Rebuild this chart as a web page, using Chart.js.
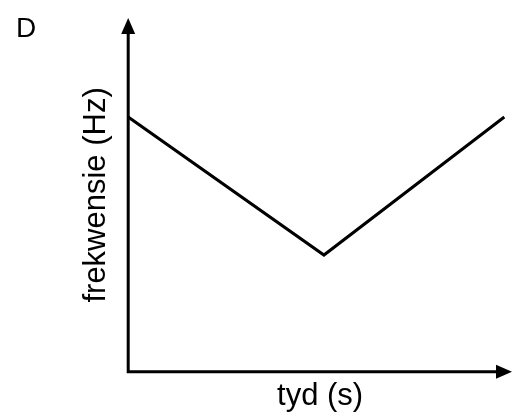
<!DOCTYPE html>
<html>
<head>
<meta charset="utf-8">
<script src="https://cdn.jsdelivr.net/npm/chart.js@4"></script>
<style>
  html, body { margin: 0; padding: 0; background: #fff; }
</style>
</head>
<body>
<canvas id="chart" width="513" height="412"></canvas>
<script>
// frequency vs time (arbitrary units, no ticks shown)
const times = [0, 5.1, 9.8];
const freqs = [7.2, 3.3, 7.2];
const panelLabel = 'D';
const xTitle = 'tyd (s)';
const yTitle = 'frekwensie (Hz)';

const FONT = 'Liberation Sans, Arial, sans-serif';

// axes with arrowheads + panel letter
const arrowAxes = {
    id: 'arrowAxes',
    afterDraw(chart) {
        const ctx = chart.ctx;
        const x = chart.scales.x, y = chart.scales.y;
        const x0 = x.getPixelForValue(0), y0 = y.getPixelForValue(0);
        const xEnd = x.getPixelForValue(10), yEnd = y.getPixelForValue(10);
        ctx.save();
        ctx.strokeStyle = '#000';
        ctx.fillStyle = '#000';
        ctx.lineWidth = 3;
        ctx.beginPath();
        ctx.moveTo(x0, yEnd + 12);
        ctx.lineTo(x0, y0);
        ctx.lineTo(xEnd - 12, y0);
        ctx.stroke();
        // up arrow
        ctx.beginPath();
        ctx.moveTo(x0, yEnd);
        ctx.lineTo(x0 - 7, yEnd + 16);
        ctx.lineTo(x0 + 7, yEnd + 16);
        ctx.closePath();
        ctx.fill();
        // right arrow
        ctx.beginPath();
        ctx.moveTo(xEnd, y0);
        ctx.lineTo(xEnd - 16, y0 - 7);
        ctx.lineTo(xEnd - 16, y0 + 7);
        ctx.closePath();
        ctx.fill();
        ctx.font = '28px ' + FONT;
        ctx.textBaseline = 'alphabetic';
        ctx.fillText(panelLabel, 16, 37);
        ctx.restore();
    }
};

new Chart(document.getElementById('chart'), {
    type: 'line',
    data: {
        datasets: [{
            data: times.map((t, i) => ({ x: t, y: freqs[i] })),
            borderColor: '#000',
            borderWidth: 3,
            pointRadius: 0,
            tension: 0,
            fill: false
        }]
    },
    options: {
        responsive: false,
        animation: false,
        devicePixelRatio: 1,
        layout: { padding: { left: 78, right: 1, top: 18, bottom: 0 } },
        plugins: {
            legend: { display: false },
            tooltip: { enabled: false }
        },
        scales: {
            x: {
                type: 'linear',
                min: 0,
                max: 10,
                grid: { display: false },
                border: { display: false },
                ticks: { display: false },
                title: {
                    display: true,
                    text: xTitle,
                    color: '#000',
                    font: { size: 31, family: FONT },
                    padding: { top: -2, bottom: -3 }
                }
            },
            y: {
                min: 0,
                max: 10,
                grid: { display: false },
                border: { display: false },
                ticks: { display: false },
                title: {
                    display: true,
                    text: yTitle,
                    color: '#000',
                    font: { size: 31, family: FONT },
                    padding: { top: 0, bottom: 5 }
                }
            }
        }
    },
    plugins: [arrowAxes]
});
</script>
</body>
</html>
